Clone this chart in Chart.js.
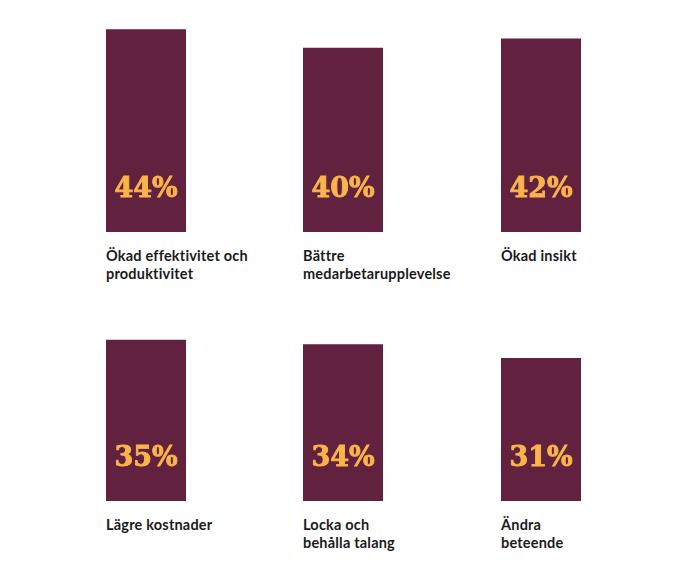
<!DOCTYPE html>
<html lang="sv">
<head>
  <meta charset="UTF-8" />
  <title>Effekter</title>
  <script src="https://cdn.jsdelivr.net/npm/chart.js"></script>
  <style>
    body {
      margin: 0;
      background: #ffffff;
      width: 689px;
      height: 583px;
      position: relative;
      overflow: hidden;
    }
    .cell {
      position: absolute;
      width: 180px;
    }
    .cell canvas {
      display: block;
    }
    .etikett {
      margin-top: 15px;
      font-family: 'Lato', sans-serif;
      font-weight: 700;
      font-size: 14.5px;
      line-height: 18px;
      letter-spacing: 0.2px;
      color: #1b1b1b;
    }
  </style>
</head>
<body>
  <div id="rutor"></div>

  <script>
    const kategorier = [
      'Ökad effektivitet och<br>produktivitet',
      'Bättre<br>medarbetarupplevelse',
      'Ökad insikt',
      'Lägre kostnader',
      'Locka och<br>behålla talang',
      'Ändra<br>beteende'
    ];
    const varden = [44, 40, 42, 35, 34, 31];
    const yMax = 50;

    const barFarg = '#62213f';
    const textFarg = '#f9b54a';

    const kolumnX = [106, 303, 501];
    const radTopp = [2, 271];

    const procentEtikett = {
      id: 'procentEtikett',
      afterDatasetsDraw(chart) {
        const ctx = chart.ctx;
        const bar = chart.getDatasetMeta(0).data[0];
        const v = chart.data.datasets[0].data[0];
        ctx.save();
        ctx.fillStyle = textFarg;
        ctx.strokeStyle = textFarg;
        ctx.lineWidth = 0.9;
        ctx.font = 'bold 27px "DejaVu Serif"';
        ctx.textAlign = 'center';
        ctx.textBaseline = 'middle';
        ctx.fillText(v + '%', bar.x, chart.chartArea.bottom - 42);
        ctx.strokeText(v + '%', bar.x, chart.chartArea.bottom - 42);
        ctx.restore();
      }
    };

    const rutor = document.getElementById('rutor');

    varden.forEach((v, i) => {
      const cell = document.createElement('div');
      cell.className = 'cell';
      cell.style.left = kolumnX[i % 3] + 'px';
      cell.style.top = radTopp[Math.floor(i / 3)] + 'px';

      const canvas = document.createElement('canvas');
      canvas.width = 80;
      canvas.height = 230;
      canvas.style.width = '80px';
      canvas.style.height = '230px';
      cell.appendChild(canvas);

      const etikett = document.createElement('div');
      etikett.className = 'etikett';
      etikett.innerHTML = kategorier[i];
      cell.appendChild(etikett);

      rutor.appendChild(cell);

      new Chart(canvas.getContext('2d'), {
        type: 'bar',
        data: {
          labels: [kategorier[i].replace('<br>', ' ')],
          datasets: [{
            data: [v],
            backgroundColor: barFarg,
            borderWidth: 0,
            barPercentage: 1,
            categoryPercentage: 1
          }]
        },
        options: {
          responsive: false,
          animation: false,
          layout: { padding: 0 },
          plugins: {
            legend: { display: false },
            tooltip: { enabled: false }
          },
          scales: {
            x: { display: false },
            y: { display: false, min: 0, max: yMax }
          }
        },
        plugins: [procentEtikett]
      });
    });
  </script>
</body>
</html>
